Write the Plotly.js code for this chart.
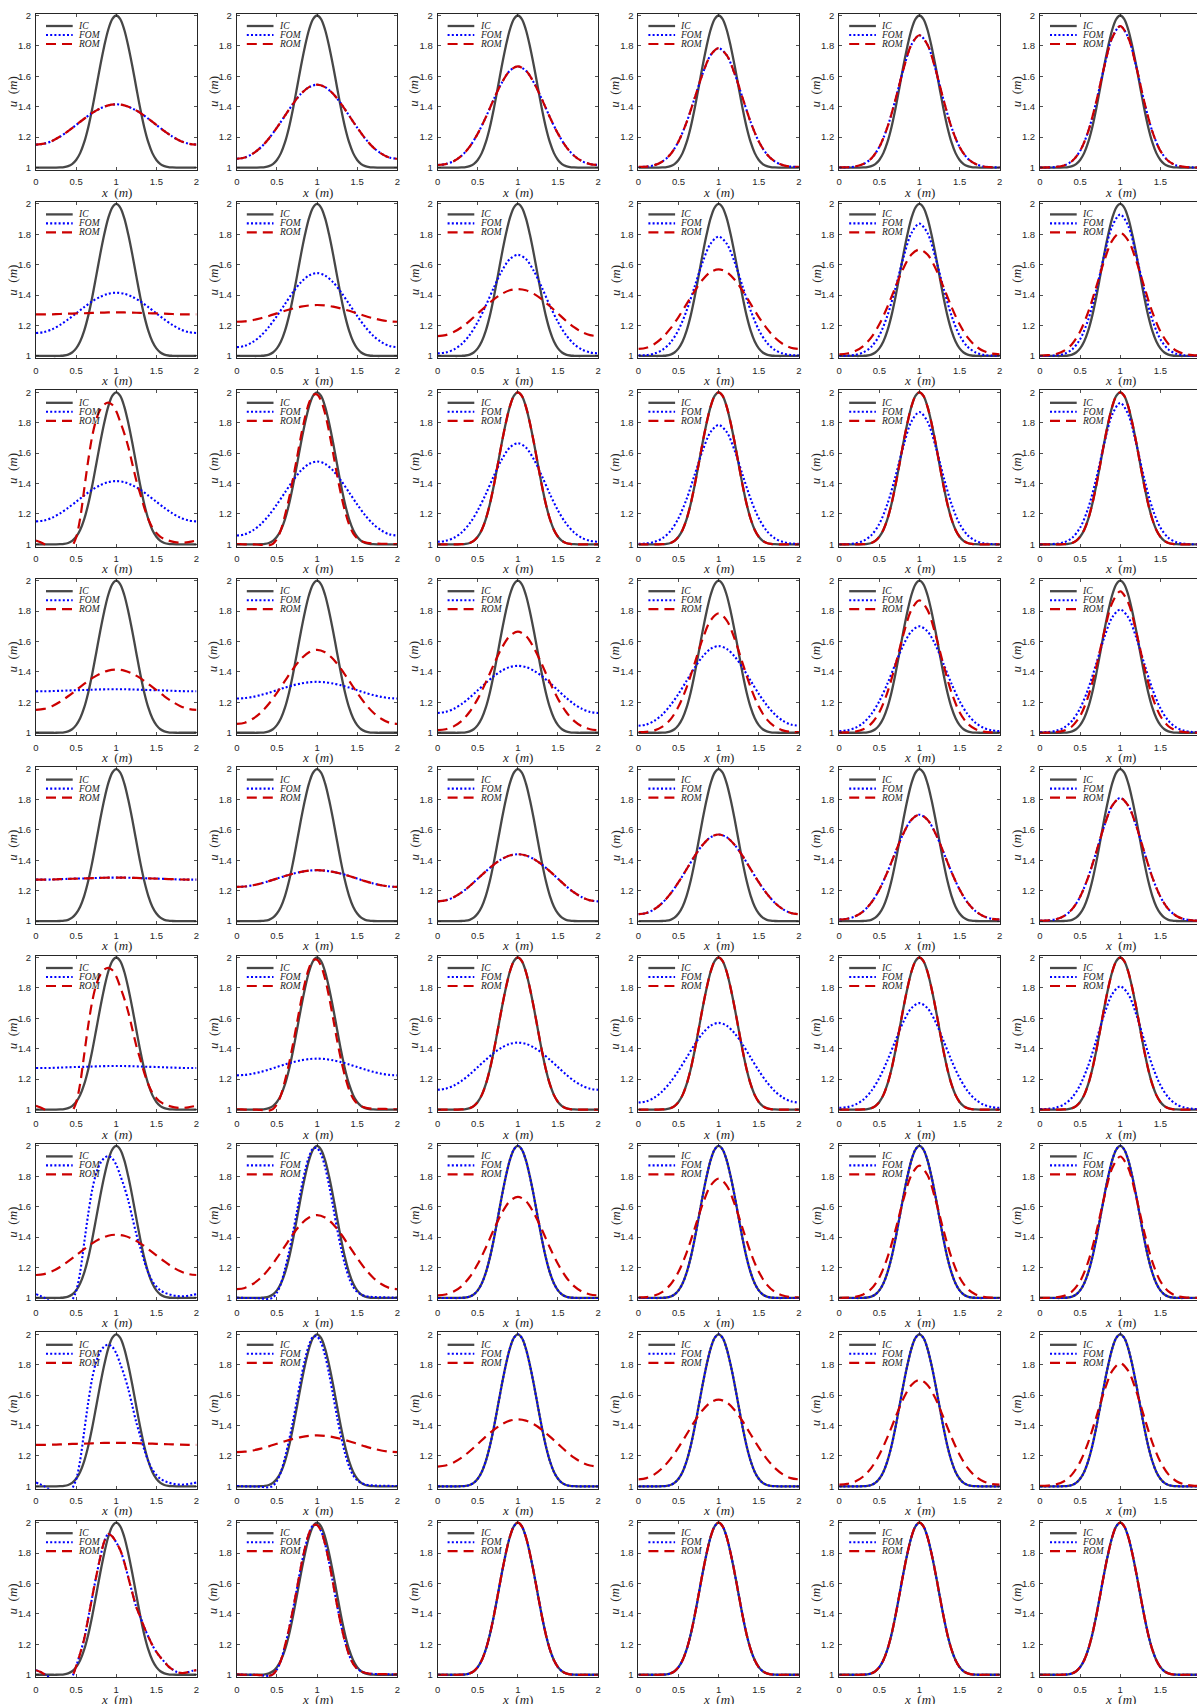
<!DOCTYPE html>
<html><head><meta charset="utf-8">
<script src="https://cdn.plot.ly/plotly-3.0.1.min.js"></script>
<style>html,body{margin:0;padding:0;overflow:hidden;background:#fff}#chart{width:1206px;height:1704px}</style>
</head><body><div id="chart"></div>
<script>
// ---------------- data ----------------
const xFine = [0,0.05,0.1,0.15,0.2,0.25,0.3,0.35,0.4,0.45,0.5,0.55,0.6,0.65,0.7,0.75,0.8,0.85,0.9,0.95,1,1.05,1.1,1.15,1.2,1.25,1.3,1.35,1.4,1.45,1.5,1.55,1.6,1.65,1.7,1.75,1.8,1.85,1.9,1.95,2];
const xCoarse = [0,0.1,0.2,0.3,0.4,0.5,0.6,0.7,0.8,0.9,1,1.1,1.2,1.3,1.4,1.5,1.6,1.7,1.8,1.9,2];

// initial condition (on xFine)
const icU = [1.000,1.000,1.000,1.000,1.000,1.000,1.001,1.003,1.009,1.023,1.050,1.095,1.165,1.262,1.385,1.525,1.668,1.798,1.906,1.976,2.000,1.976,1.906,1.798,1.668,1.525,1.385,1.262,1.165,1.095,1.050,1.023,1.009,1.003,1.001,1.000,1.000,1.000,1.000,1.000,1.000];

// diffused solutions, family A (on xCoarse), one per column
const diffA1 = [1.151,1.157,1.175,1.204,1.240,1.280,1.321,1.359,1.389,1.409,1.416,1.409,1.389,1.359,1.321,1.280,1.240,1.204,1.175,1.157,1.151];
const diffA2 = [1.058,1.066,1.092,1.133,1.191,1.263,1.341,1.419,1.485,1.529,1.545,1.529,1.485,1.419,1.341,1.263,1.191,1.133,1.092,1.066,1.058];
const diffA3 = [1.017,1.023,1.042,1.078,1.138,1.223,1.330,1.449,1.558,1.637,1.665,1.637,1.558,1.449,1.330,1.223,1.138,1.078,1.042,1.023,1.017];
const diffA4 = [1.004,1.006,1.016,1.040,1.088,1.172,1.297,1.455,1.616,1.739,1.785,1.739,1.616,1.455,1.297,1.172,1.088,1.040,1.016,1.006,1.004];
const diffA5 = [1.001,1.002,1.007,1.023,1.060,1.135,1.264,1.445,1.646,1.808,1.870,1.808,1.646,1.445,1.264,1.135,1.060,1.023,1.007,1.002,1.001];
const diffA6 = [1.000,1.001,1.004,1.014,1.043,1.110,1.237,1.431,1.661,1.854,1.930,1.854,1.661,1.431,1.237,1.110,1.043,1.014,1.004,1.001,1.000];

// diffused solutions, family B (on xCoarse), one per column
const diffB1 = [1.273,1.273,1.274,1.276,1.278,1.280,1.281,1.283,1.285,1.286,1.286,1.286,1.285,1.283,1.281,1.280,1.278,1.276,1.274,1.273,1.273];
const diffB2 = [1.225,1.228,1.236,1.248,1.263,1.280,1.297,1.312,1.324,1.332,1.335,1.332,1.324,1.312,1.297,1.280,1.263,1.248,1.236,1.228,1.225];
const diffB3 = [1.130,1.137,1.157,1.189,1.231,1.279,1.327,1.372,1.408,1.432,1.440,1.432,1.408,1.372,1.327,1.279,1.231,1.189,1.157,1.137,1.130];
const diffB4 = [1.046,1.054,1.079,1.121,1.181,1.256,1.341,1.427,1.501,1.552,1.570,1.552,1.501,1.427,1.341,1.256,1.181,1.121,1.079,1.054,1.046];
const diffB5 = [1.011,1.016,1.032,1.065,1.122,1.208,1.322,1.452,1.577,1.667,1.700,1.667,1.577,1.452,1.322,1.208,1.122,1.065,1.032,1.016,1.011];
const diffB6 = [1.003,1.005,1.013,1.034,1.079,1.161,1.288,1.453,1.625,1.759,1.810,1.759,1.625,1.453,1.288,1.161,1.079,1.034,1.013,1.005,1.003];

// shifted, non-diffused solutions (on xFine)
const shift1 = [1.025,1.015,1.002,0.985,0.962,0.942,0.928,0.926,0.945,0.985,1.045,1.170,1.360,1.550,1.710,1.820,1.885,1.920,1.932,1.918,1.875,1.805,1.730,1.640,1.530,1.420,1.330,1.240,1.165,1.110,1.075,1.050,1.035,1.025,1.018,1.013,1.011,1.012,1.015,1.020,1.025];
const shift1b = [1.030,1.020,1.005,0.990,0.970,0.950,0.935,0.930,0.945,0.985,1.055,1.140,1.235,1.370,1.510,1.645,1.770,1.875,1.925,1.910,1.870,1.820,1.740,1.640,1.540,1.445,1.380,1.310,1.250,1.195,1.150,1.115,1.085,1.055,1.035,1.020,1.012,1.012,1.018,1.026,1.030];
const shift2 = [1.002,1.001,1.000,1.000,1.000,0.999,0.997,0.994,0.993,1.003,1.035,1.095,1.190,1.300,1.430,1.570,1.712,1.835,1.930,1.982,1.985,1.945,1.860,1.740,1.600,1.455,1.325,1.215,1.130,1.072,1.040,1.022,1.013,1.008,1.006,1.005,1.004,1.004,1.003,1.002,1.002];

// which solution family each row shows for FOM and ROM
const rowFom = ['A','A','A','B','B','B','C','C','D'];
const rowRom = ['A','B','C','A','B','C','A','B','D'];

const xTicks = [0,0.5,1,1.5,2];
const xTickText = ['0','0.5','1','1.5','2'];
const yTicks = [1,1.2,1.4,1.6,1.8,2];
const yTickText = ['1','1.2','1.4','1.6','1.8','2'];
const legendNames = ['IC','FOM','ROM'];

// ---------------- build ----------------
const famA = [diffA1,diffA2,diffA3,diffA4,diffA5,diffA6];
const famB = [diffB1,diffB2,diffB3,diffB4,diffB5,diffB6];
function curve(fam, c){
  if(fam==='A') return {x:xCoarse, y:famA[c]};
  if(fam==='B') return {x:xCoarse, y:famB[c]};
  const first = fam==='C' ? shift1 : shift1b;
  return {x:xFine, y: c===0 ? first : (c===1 ? shift2 : icU)};
}

const W = 1206, H = 1704;
const PW = 160.5, PH = 156.5;
const styles = [
  {color:'#474747', width:2.3, dash:'solid'},
  {color:'#0000ff', width:2.1, dash:'2px,2.2px'},
  {color:'#cc0000', width:2.2, dash:'10px,6px'}
];
const tickFont = {family:'Liberation Sans, Arial, sans-serif', size:9.5, color:'#262626'};
const labFont = {family:'Liberation Serif, Times New Roman, serif', size:13, color:'#262626'};
const legFont = {family:'Liberation Serif, Times New Roman, serif', size:9.5, color:'#1a1a1a'};

const traces = [], layout = {
  width:W, height:H, margin:{l:0,r:0,t:0,b:0},
  paper_bgcolor:'#ffffff', plot_bgcolor:'#ffffff', showlegend:false,
  annotations:[], shapes:[]
};

for(let r=0;r<9;r++){
  for(let c=0;c<6;c++){
    const k = r*6+c+1;
    const xs = k===1?'':String(k);
    const left = 36 + c*200.8, top = 13.5 + r*188.4;
    const common = {showgrid:false, zeroline:false, showline:true, linecolor:'#262626', linewidth:1,
      mirror:'ticks', ticks:'inside', ticklen:3, tickwidth:0.8, tickcolor:'#262626', tickfont:tickFont, fixedrange:true};
    // the last column runs past the right edge of the page: its "2" label is not shown
    const nX = c===5 ? 4 : 5;
    layout['xaxis'+xs] = Object.assign({}, common, {
      domain:[left/W, (left+PW)/W], anchor:'y'+xs, range:[0,2], ticklabelstandoff:3,
      tickmode:'array', tickvals:xTicks.slice(0,nX), ticktext:xTickText.slice(0,nX)});
    layout['yaxis'+xs] = Object.assign({}, common, {
      domain:[1-(top+PH)/H, 1-top/H], anchor:'x'+xs, range:[0.984,2.013], ticklabelstandoff:2,
      tickmode:'array', tickvals:yTicks, ticktext:yTickText});
    const series = [{x:xFine, y:icU}, curve(rowFom[r], c), curve(rowRom[r], c)];
    series.forEach((s,i)=>{
      traces.push({type:'scatter', mode:'lines', x:s.x, y:s.y, xaxis:'x'+xs, yaxis:'y'+xs,
        name:legendNames[i], line:Object.assign({shape:'spline', smoothing:0.9}, styles[i]),
        hoverinfo:'skip', showlegend:false});
    });
    // axis titles
    layout.annotations.push({xref:'x'+xs+' domain', yref:'y'+xs+' domain', x:0.5, y:-22/PH,
      xanchor:'center', yanchor:'middle', showarrow:false, font:labFont, text:'<i>x</i>&#160; (<i>m</i>)'});
    layout.annotations.push({xref:'x'+xs+' domain', yref:'y'+xs+' domain', x:-23.5/PW, y:0.5,
      xanchor:'center', yanchor:'middle', textangle:-90, showarrow:false, font:labFont, text:'<i>u</i>&#160; (<i>m</i>)'});
    // legend
    const ly = [12.5, 21.5, 30.5];
    for(let i=0;i<3;i++){
      const yy = 1 - ly[i]/PH;
      layout.shapes.push({type:'line', xref:'x'+xs+' domain', yref:'y'+xs+' domain',
        x0:10/PW, x1:36.7/PW, y0:yy, y1:yy, line:{color:styles[i].color, width:styles[i].width, dash:styles[i].dash}});
      layout.annotations.push({xref:'x'+xs+' domain', yref:'y'+xs+' domain', x:40/PW, y:yy,
        xanchor:'left', yanchor:'middle', showarrow:false, font:legFont, text:'<i>'+legendNames[i]+'</i>'});
    }
  }
}

Plotly.newPlot('chart', traces, layout, {staticPlot:true, displayModeBar:false});
</script></body></html>
